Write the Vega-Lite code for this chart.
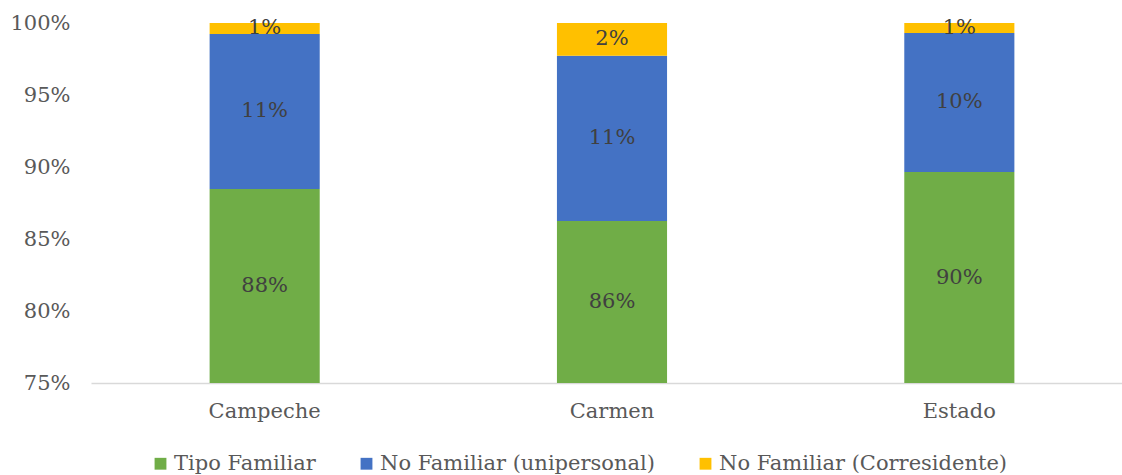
{
  "$schema": "https://vega.github.io/schema/vega-lite/v6.json",
  "width": 1042,
  "height": 360,
  "autosize": {"type": "none"},
  "padding": {"left": 91, "top": 23, "right": 0, "bottom": 92},
  "config": {
    "view": {"stroke": null},
    "font": "DejaVu Serif",
    "axis": {"labelFont": "DejaVu Serif", "labelColor": "#595959", "labelFontSize": 21, "title": null, "ticks": false, "grid": false, "labelOverlap": false},
    "legend": {"labelFont": "DejaVu Serif"}
  },
  "data": {
    "values": [
      {"cat": "Campeche", "serie": "Tipo Familiar", "ord": 1, "v": 0.8847},
      {"cat": "Campeche", "serie": "No Familiar (unipersonal)", "ord": 2, "v": 0.1077},
      {"cat": "Campeche", "serie": "No Familiar (Corresidente)", "ord": 3, "v": 0.0076},
      {"cat": "Carmen", "serie": "Tipo Familiar", "ord": 1, "v": 0.8625},
      {"cat": "Carmen", "serie": "No Familiar (unipersonal)", "ord": 2, "v": 0.1148},
      {"cat": "Carmen", "serie": "No Familiar (Corresidente)", "ord": 3, "v": 0.0227},
      {"cat": "Estado", "serie": "Tipo Familiar", "ord": 1, "v": 0.8965},
      {"cat": "Estado", "serie": "No Familiar (unipersonal)", "ord": 2, "v": 0.0966},
      {"cat": "Estado", "serie": "No Familiar (Corresidente)", "ord": 3, "v": 0.0069}
    ]
  },
  "transform": [
    {"stack": "v", "groupby": ["cat"], "sort": [{"field": "ord", "order": "ascending"}], "as": ["y0", "y1"]},
    {"calculate": "(max(datum.y0, 0.75) + datum.y1) / 2", "as": "mid"}
  ],
  "encoding": {
    "x": {
      "field": "cat", "type": "nominal", "sort": ["Campeche", "Carmen", "Estado"],
      "scale": {"paddingInner": 0.683, "paddingOuter": 0.3415},
      "axis": {"labelAngle": 0, "domain": true, "domainColor": "#d9d9d9", "domainWidth": 1.5, "labelPadding": 17}
    }
  },
  "layer": [
    {
      "mark": {"type": "bar", "clip": true},
      "encoding": {
        "y": {
          "field": "y1", "type": "quantitative",
          "scale": {"domain": [0.75, 1], "nice": false, "zero": false},
          "axis": {"format": ".0%", "values": [0.75, 0.8, 0.85, 0.9, 0.95, 1], "domain": false, "labelPadding": 21}
        },
        "y2": {"field": "y0"},
        "color": {
          "field": "serie", "type": "nominal",
          "scale": {"domain": ["Tipo Familiar", "No Familiar (unipersonal)", "No Familiar (Corresidente)"], "range": ["#70AD47", "#4472C4", "#FFC000"]},
          "legend": {
            "title": null, "orient": "none", "direction": "horizontal", "legendX": 59, "legendY": 430,
            "symbolType": "square", "symbolSize": 140, "symbolStrokeWidth": 0, "labelFontSize": 21, "labelColor": "#595959",
            "columnPadding": 40, "labelOffset": 3, "labelLimit": 400
          }
        }
      }
    },
    {
      "mark": {"type": "text", "font": "DejaVu Serif", "fontSize": 21, "color": "#404040", "baseline": "middle"},
      "encoding": {
        "y": {"field": "mid", "type": "quantitative"},
        "text": {"field": "v", "type": "quantitative", "format": ".0%"}
      }
    }
  ]
}
